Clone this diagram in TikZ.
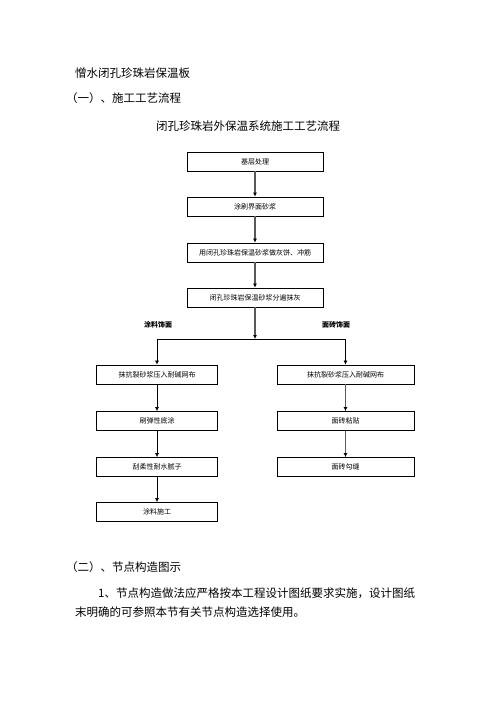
\documentclass[tikz,border=0pt]{standalone}
\usepackage{fontspec}
\newfontfamily\cjk{Noto Sans CJK SC}
\usetikzlibrary{arrows.meta,positioning}

\tikzstyle{block} = [rectangle, draw, thick, minimum height=19pt, inner sep=0pt, font=\cjk\fontsize{7}{8}\selectfont]
\tikzstyle{line} = [draw, semithick, -{Latex[length=4pt,width=4pt]}]
\tikzstyle{greyline} = [draw, gray!70!black, line width=1.3pt, -{Latex[length=4pt,width=4pt,black]}]
\tikzstyle{para} = [anchor=west, inner sep=0pt, font=\cjk\fontsize{11.5}{13}\selectfont]

\begin{document}
\begin{tikzpicture}[x=1pt, y=-1pt]
        \useasboundingbox (0,0) rectangle (496,702);
        % Headings
        \node (head) at (75,73) [para] {憎水闭孔珍珠岩保温板};
        \node (sec1) at (66,98) [para] {（一）、施工工艺流程};
        \node (title) at (248,126) [para, anchor=center] {闭孔珍珠岩外保温系统施工工艺流程};
        % Main column
        \node (s1) at (255,161.5) [block, minimum width=136pt] {基层处理};
        \node (s2) at (255,206.5) [block, minimum width=136pt] {涂刷界面砂浆};
        \node (s3) at (255,252.5) [block, minimum width=136pt] {用闭孔珍珠岩保温砂浆做灰饼、冲筋};
        \node (s4) at (255,297.5) [block, minimum width=136pt] {闭孔珍珠岩保温砂浆分遍抹灰};
        \coordinate (split) at (255,339);
        % Branch labels
        \node (coat) at (158,325) [font=\cjk\bfseries\fontsize{7}{8}\selectfont] {涂料饰面};
        \node (tile) at (336,325) [font=\cjk\bfseries\fontsize{7}{8}\selectfont] {面砖饰面};
        % Left column
        \node (l1) at (157,374.5) [block, minimum width=121pt] {抹抗裂砂浆压入耐碱网布};
        \node (l2) at (157,421) [block, minimum width=121pt] {刷弹性底涂};
        \node (l3) at (157,467) [block, minimum width=121pt] {刮柔性耐水腻子};
        \node (l4) at (157,512) [block, minimum width=121pt] {涂料施工};
        % Right column
        \node (r1) at (345.5,374.5) [block, minimum width=137pt] {抹抗裂砂浆压入耐碱网布};
        \node (r2) at (345.5,421) [block, minimum width=137pt] {面砖粘贴};
        \node (r3) at (345.5,467) [block, minimum width=137pt] {面砖勾缝};
        % Connectors
        \path [greyline] (s1) -- (s2);
        \path [greyline] (s2) -- (s3);
        \path [greyline] (s3) -- (s4);
        \path [greyline] (s4) -- (split);
        \path [line] (split) -| (l1);
        \path [line] (split) -| (r1);
        \path [line] (l1) -- (l2);
        \path [line] (l2) -- (l3);
        \path [line] (l3) -- (l4);
        \path [greyline] (r1) -- (r2);
        \path [greyline] (r2) -- (r3);
        % Closing text
        \node (sec2) at (66,567) [para] {（二）、节点构造图示};
        \node (txt1) at (98,593) [para] {1、节点构造做法应严格按本工程设计图纸要求实施，设计图纸};
        \node (txt2) at (75,612) [para] {末明确的可参照本节有关节点构造选择使用。};
\end{tikzpicture}
\end{document}
